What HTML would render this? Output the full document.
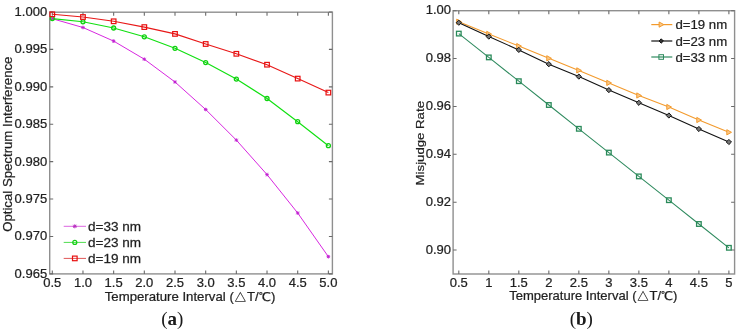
<!DOCTYPE html>
<html><head><meta charset="utf-8"><title>Figure</title>
<style>
html,body{margin:0;padding:0;background:#fff;}
body{width:740px;height:332px;overflow:hidden;}
svg{display:block;}
svg text{font-family:'Liberation Sans', 'Noto Sans CJK SC', sans-serif;fill:#1a1a1a;stroke:#333;stroke-width:0.25px;}
</style></head><body>
<svg width="740" height="332" viewBox="0 0 740 332">
<rect width="740" height="332" fill="#fff"/>
<rect x="49.70" y="12.20" width="282.70" height="261.70" fill="none" stroke="#8f8f8f" stroke-width="1.4"/>
<path d="M52.30 273.90V270.40M52.30 12.20V15.70M82.97 273.90V270.40M82.97 12.20V15.70M113.65 273.90V270.40M113.65 12.20V15.70M144.32 273.90V270.40M144.32 12.20V15.70M175.00 273.90V270.40M175.00 12.20V15.70M205.68 273.90V270.40M205.68 12.20V15.70M236.35 273.90V270.40M236.35 12.20V15.70M267.02 273.90V270.40M267.02 12.20V15.70M297.70 273.90V270.40M297.70 12.20V15.70M328.38 273.90V270.40M328.38 12.20V15.70M49.70 12.00H53.20M332.40 12.00H328.90M49.70 49.41H53.20M332.40 49.41H328.90M49.70 86.83H53.20M332.40 86.83H328.90M49.70 124.24H53.20M332.40 124.24H328.90M49.70 161.66H53.20M332.40 161.66H328.90M49.70 199.07H53.20M332.40 199.07H328.90M49.70 236.49H53.20M332.40 236.49H328.90M49.70 273.90H53.20M332.40 273.90H328.90" stroke="#6a6a6a" stroke-width="1.1" fill="none"/>
<text transform="translate(47.20 16.00) scale(1.085 1)" text-anchor="end" font-size="12">1.000</text>
<text transform="translate(47.20 53.41) scale(1.085 1)" text-anchor="end" font-size="12">0.995</text>
<text transform="translate(47.20 90.83) scale(1.085 1)" text-anchor="end" font-size="12">0.990</text>
<text transform="translate(47.20 128.24) scale(1.085 1)" text-anchor="end" font-size="12">0.985</text>
<text transform="translate(47.20 165.66) scale(1.085 1)" text-anchor="end" font-size="12">0.980</text>
<text transform="translate(47.20 203.07) scale(1.085 1)" text-anchor="end" font-size="12">0.975</text>
<text transform="translate(47.20 240.49) scale(1.085 1)" text-anchor="end" font-size="12">0.970</text>
<text transform="translate(47.20 277.90) scale(1.085 1)" text-anchor="end" font-size="12">0.965</text>
<text transform="translate(52.30 286.80) scale(1.085 1)" text-anchor="middle" font-size="12">0.5</text>
<text transform="translate(82.97 286.80) scale(1.085 1)" text-anchor="middle" font-size="12">1.0</text>
<text transform="translate(113.65 286.80) scale(1.085 1)" text-anchor="middle" font-size="12">1.5</text>
<text transform="translate(144.32 286.80) scale(1.085 1)" text-anchor="middle" font-size="12">2.0</text>
<text transform="translate(175.00 286.80) scale(1.085 1)" text-anchor="middle" font-size="12">2.5</text>
<text transform="translate(205.68 286.80) scale(1.085 1)" text-anchor="middle" font-size="12">3.0</text>
<text transform="translate(236.35 286.80) scale(1.085 1)" text-anchor="middle" font-size="12">3.5</text>
<text transform="translate(267.02 286.80) scale(1.085 1)" text-anchor="middle" font-size="12">4.0</text>
<text transform="translate(297.70 286.80) scale(1.085 1)" text-anchor="middle" font-size="12">4.5</text>
<text transform="translate(328.38 286.80) scale(1.085 1)" text-anchor="middle" font-size="12">5.0</text>
<polyline points="52.30,18.70 82.97,27.50 113.65,41.10 144.32,59.20 175.00,82.00 205.68,109.50 236.35,140.10 267.02,174.60 297.70,213.00 328.38,256.70" fill="none" stroke="#d828e0" stroke-width="1.0" stroke-linejoin="round"/>
<polyline points="52.30,18.60 82.97,21.80 113.65,28.00 144.32,36.80 175.00,48.30 205.68,62.60 236.35,79.10 267.02,98.50 297.70,121.70 328.38,145.70" fill="none" stroke="#10e010" stroke-width="1.15" stroke-linejoin="round"/>
<polyline points="52.30,14.30 82.97,17.00 113.65,21.30 144.32,27.10 175.00,33.90 205.68,44.00 236.35,53.80 267.02,64.70 297.70,78.60 328.38,92.60" fill="none" stroke="#e81818" stroke-width="1.15" stroke-linejoin="round"/>
<path d="M50.95 17.35L53.65 20.05M50.95 20.05L53.65 17.35M50.50 18.70H54.10M52.30 16.90V20.50" stroke="#c020d0" stroke-width="0.9"/>
<path d="M81.62 26.15L84.32 28.85M81.62 28.85L84.32 26.15M81.17 27.50H84.77M82.97 25.70V29.30" stroke="#c020d0" stroke-width="0.9"/>
<path d="M112.30 39.75L115.00 42.45M112.30 42.45L115.00 39.75M111.85 41.10H115.45M113.65 39.30V42.90" stroke="#c020d0" stroke-width="0.9"/>
<path d="M142.97 57.85L145.67 60.55M142.97 60.55L145.67 57.85M142.52 59.20H146.12M144.32 57.40V61.00" stroke="#c020d0" stroke-width="0.9"/>
<path d="M173.65 80.65L176.35 83.35M173.65 83.35L176.35 80.65M173.20 82.00H176.80M175.00 80.20V83.80" stroke="#c020d0" stroke-width="0.9"/>
<path d="M204.33 108.15L207.03 110.85M204.33 110.85L207.03 108.15M203.88 109.50H207.48M205.68 107.70V111.30" stroke="#c020d0" stroke-width="0.9"/>
<path d="M235.00 138.75L237.70 141.45M235.00 141.45L237.70 138.75M234.55 140.10H238.15M236.35 138.30V141.90" stroke="#c020d0" stroke-width="0.9"/>
<path d="M265.67 173.25L268.38 175.95M265.67 175.95L268.38 173.25M265.22 174.60H268.82M267.02 172.80V176.40" stroke="#c020d0" stroke-width="0.9"/>
<path d="M296.35 211.65L299.05 214.35M296.35 214.35L299.05 211.65M295.90 213.00H299.50M297.70 211.20V214.80" stroke="#c020d0" stroke-width="0.9"/>
<path d="M327.02 255.35L329.73 258.05M327.02 258.05L329.73 255.35M326.57 256.70H330.18M328.38 254.90V258.50" stroke="#c020d0" stroke-width="0.9"/>
<circle cx="52.30" cy="18.60" r="2.00" fill="none" stroke="#10d010" stroke-width="1.3"/>
<circle cx="82.97" cy="21.80" r="2.00" fill="none" stroke="#10d010" stroke-width="1.3"/>
<circle cx="113.65" cy="28.00" r="2.00" fill="none" stroke="#10d010" stroke-width="1.3"/>
<circle cx="144.32" cy="36.80" r="2.00" fill="none" stroke="#10d010" stroke-width="1.3"/>
<circle cx="175.00" cy="48.30" r="2.00" fill="none" stroke="#10d010" stroke-width="1.3"/>
<circle cx="205.68" cy="62.60" r="2.00" fill="none" stroke="#10d010" stroke-width="1.3"/>
<circle cx="236.35" cy="79.10" r="2.00" fill="none" stroke="#10d010" stroke-width="1.3"/>
<circle cx="267.02" cy="98.50" r="2.00" fill="none" stroke="#10d010" stroke-width="1.3"/>
<circle cx="297.70" cy="121.70" r="2.00" fill="none" stroke="#10d010" stroke-width="1.3"/>
<circle cx="328.38" cy="145.70" r="2.00" fill="none" stroke="#10d010" stroke-width="1.3"/>
<rect x="50.00" y="12.00" width="4.60" height="4.60" fill="none" stroke="#e81010" stroke-width="1.2"/>
<rect x="80.67" y="14.70" width="4.60" height="4.60" fill="none" stroke="#e81010" stroke-width="1.2"/>
<rect x="111.35" y="19.00" width="4.60" height="4.60" fill="none" stroke="#e81010" stroke-width="1.2"/>
<rect x="142.02" y="24.80" width="4.60" height="4.60" fill="none" stroke="#e81010" stroke-width="1.2"/>
<rect x="172.70" y="31.60" width="4.60" height="4.60" fill="none" stroke="#e81010" stroke-width="1.2"/>
<rect x="203.38" y="41.70" width="4.60" height="4.60" fill="none" stroke="#e81010" stroke-width="1.2"/>
<rect x="234.05" y="51.50" width="4.60" height="4.60" fill="none" stroke="#e81010" stroke-width="1.2"/>
<rect x="264.72" y="62.40" width="4.60" height="4.60" fill="none" stroke="#e81010" stroke-width="1.2"/>
<rect x="295.40" y="76.30" width="4.60" height="4.60" fill="none" stroke="#e81010" stroke-width="1.2"/>
<rect x="326.07" y="90.30" width="4.60" height="4.60" fill="none" stroke="#e81010" stroke-width="1.2"/>
<path d="M63.7 226.30H86" stroke="#dd66e0" stroke-width="1"/>
<path d="M73.30 224.80L76.30 227.80M73.30 227.80L76.30 224.80M72.80 226.30H76.80M74.80 224.30V228.30" stroke="#b830c0" stroke-width="1.0"/>
<text transform="translate(88.00 230.60) scale(1.130 1)" text-anchor="start" font-size="12">d=33 nm</text>
<path d="M63.7 242.40H86" stroke="#50dd50" stroke-width="1"/>
<circle cx="74.80" cy="242.40" r="2.00" fill="none" stroke="#10d010" stroke-width="1.2"/>
<text transform="translate(88.00 246.70) scale(1.130 1)" text-anchor="start" font-size="12">d=23 nm</text>
<path d="M63.7 258.40H86" stroke="#e05858" stroke-width="1"/>
<rect x="72.50" y="256.10" width="4.60" height="4.60" fill="none" stroke="#e81010" stroke-width="1.2"/>
<text transform="translate(88.00 262.70) scale(1.130 1)" text-anchor="start" font-size="12">d=19 nm</text>
<text transform="translate(190.00 300.80) scale(1.100 1)" text-anchor="middle" font-size="12">Temperature Interval (<tspan font-family="'WenQuanYi Zen Hei'">△</tspan>T/<tspan font-family="'WenQuanYi Zen Hei'">℃</tspan>)</text>
<text x="0.00" y="0.00" text-anchor="middle" font-size="12" transform="translate(12.0 144.2) rotate(-90) scale(1.10 1.0)">Optical Spectrum Interference</text>
<text x="172.3" y="325.0" text-anchor="middle" font-size="19" style="font-family:'Liberation Serif', serif;stroke:none">(<tspan font-weight="bold">a</tspan>)</text>
<rect x="453.10" y="10.70" width="281.50" height="263.30" fill="none" stroke="#8f8f8f" stroke-width="1.4"/>
<path d="M458.80 274.00V270.50M458.80 10.70V14.20M488.81 274.00V270.50M488.81 10.70V14.20M518.82 274.00V270.50M518.82 10.70V14.20M548.83 274.00V270.50M548.83 10.70V14.20M578.84 274.00V270.50M578.84 10.70V14.20M608.85 274.00V270.50M608.85 10.70V14.20M638.86 274.00V270.50M638.86 10.70V14.20M668.87 274.00V270.50M668.87 10.70V14.20M698.88 274.00V270.50M698.88 10.70V14.20M728.89 274.00V270.50M728.89 10.70V14.20M453.10 10.70H456.60M734.60 10.70H731.10M453.10 58.57H456.60M734.60 58.57H731.10M453.10 106.45H456.60M734.60 106.45H731.10M453.10 154.32H456.60M734.60 154.32H731.10M453.10 202.19H456.60M734.60 202.19H731.10M453.10 250.06H456.60M734.60 250.06H731.10" stroke="#6a6a6a" stroke-width="1.1" fill="none"/>
<text transform="translate(451.00 14.30) scale(1.085 1)" text-anchor="end" font-size="12">1.00</text>
<text transform="translate(451.00 62.17) scale(1.085 1)" text-anchor="end" font-size="12">0.98</text>
<text transform="translate(451.00 110.05) scale(1.085 1)" text-anchor="end" font-size="12">0.96</text>
<text transform="translate(451.00 157.92) scale(1.085 1)" text-anchor="end" font-size="12">0.94</text>
<text transform="translate(451.00 205.79) scale(1.085 1)" text-anchor="end" font-size="12">0.92</text>
<text transform="translate(451.00 253.66) scale(1.085 1)" text-anchor="end" font-size="12">0.90</text>
<text transform="translate(458.80 286.80) scale(1.085 1)" text-anchor="middle" font-size="12">0.5</text>
<text transform="translate(488.81 286.80) scale(1.085 1)" text-anchor="middle" font-size="12">1</text>
<text transform="translate(518.82 286.80) scale(1.085 1)" text-anchor="middle" font-size="12">1.5</text>
<text transform="translate(548.83 286.80) scale(1.085 1)" text-anchor="middle" font-size="12">2</text>
<text transform="translate(578.84 286.80) scale(1.085 1)" text-anchor="middle" font-size="12">2.5</text>
<text transform="translate(608.85 286.80) scale(1.085 1)" text-anchor="middle" font-size="12">3</text>
<text transform="translate(638.86 286.80) scale(1.085 1)" text-anchor="middle" font-size="12">3.5</text>
<text transform="translate(668.87 286.80) scale(1.085 1)" text-anchor="middle" font-size="12">4</text>
<text transform="translate(698.88 286.80) scale(1.085 1)" text-anchor="middle" font-size="12">4.5</text>
<text transform="translate(728.89 286.80) scale(1.085 1)" text-anchor="middle" font-size="12">5</text>
<polyline points="458.80,21.70 488.81,33.90 518.82,46.10 548.83,58.30 578.84,70.40 608.85,82.90 638.86,95.50 668.87,107.00 698.88,120.00 728.89,132.30" fill="none" stroke="#f39a2c" stroke-width="1.05" stroke-linejoin="round"/>
<polygon points="456.72,19.10 461.40,21.70 456.72,24.30" fill="#f9c88a" stroke="#f39a2c" stroke-width="1.0"/>
<polygon points="486.73,31.30 491.41,33.90 486.73,36.50" fill="#f9c88a" stroke="#f39a2c" stroke-width="1.0"/>
<polygon points="516.74,43.50 521.42,46.10 516.74,48.70" fill="#f9c88a" stroke="#f39a2c" stroke-width="1.0"/>
<polygon points="546.75,55.70 551.43,58.30 546.75,60.90" fill="#f9c88a" stroke="#f39a2c" stroke-width="1.0"/>
<polygon points="576.76,67.80 581.44,70.40 576.76,73.00" fill="#f9c88a" stroke="#f39a2c" stroke-width="1.0"/>
<polygon points="606.77,80.30 611.45,82.90 606.77,85.50" fill="#f9c88a" stroke="#f39a2c" stroke-width="1.0"/>
<polygon points="636.78,92.90 641.46,95.50 636.78,98.10" fill="#f9c88a" stroke="#f39a2c" stroke-width="1.0"/>
<polygon points="666.79,104.40 671.47,107.00 666.79,109.60" fill="#f9c88a" stroke="#f39a2c" stroke-width="1.0"/>
<polygon points="696.80,117.40 701.48,120.00 696.80,122.60" fill="#f9c88a" stroke="#f39a2c" stroke-width="1.0"/>
<polygon points="726.81,129.70 731.49,132.30 726.81,134.90" fill="#f9c88a" stroke="#f39a2c" stroke-width="1.0"/>
<polyline points="458.80,22.70 488.81,36.60 518.82,49.90 548.83,64.20 578.84,76.60 608.85,90.10 638.86,102.80 668.87,115.50 698.88,129.00 728.89,142.00" fill="none" stroke="#111111" stroke-width="1.1" stroke-linejoin="round"/>
<polygon points="458.80,20.10 461.40,22.70 458.80,25.30 456.20,22.70" fill="#777" stroke="#111111" stroke-width="1.0"/>
<polygon points="488.81,34.00 491.41,36.60 488.81,39.20 486.21,36.60" fill="#777" stroke="#111111" stroke-width="1.0"/>
<polygon points="518.82,47.30 521.42,49.90 518.82,52.50 516.22,49.90" fill="#777" stroke="#111111" stroke-width="1.0"/>
<polygon points="548.83,61.60 551.43,64.20 548.83,66.80 546.23,64.20" fill="#777" stroke="#111111" stroke-width="1.0"/>
<polygon points="578.84,74.00 581.44,76.60 578.84,79.20 576.24,76.60" fill="#777" stroke="#111111" stroke-width="1.0"/>
<polygon points="608.85,87.50 611.45,90.10 608.85,92.70 606.25,90.10" fill="#777" stroke="#111111" stroke-width="1.0"/>
<polygon points="638.86,100.20 641.46,102.80 638.86,105.40 636.26,102.80" fill="#777" stroke="#111111" stroke-width="1.0"/>
<polygon points="668.87,112.90 671.47,115.50 668.87,118.10 666.27,115.50" fill="#777" stroke="#111111" stroke-width="1.0"/>
<polygon points="698.88,126.40 701.48,129.00 698.88,131.60 696.28,129.00" fill="#777" stroke="#111111" stroke-width="1.0"/>
<polygon points="728.89,139.40 731.49,142.00 728.89,144.60 726.29,142.00" fill="#777" stroke="#111111" stroke-width="1.0"/>
<polyline points="458.80,33.60 488.81,57.40 518.82,81.20 548.83,105.00 578.84,128.80 608.85,152.60 638.86,176.40 668.87,200.20 698.88,224.00 728.89,247.80" fill="none" stroke="#2e8a5e" stroke-width="1.05" stroke-linejoin="round"/>
<rect x="456.50" y="31.30" width="4.60" height="4.60" fill="none" stroke="#2a8a5a" stroke-width="1.3"/>
<rect x="486.51" y="55.10" width="4.60" height="4.60" fill="none" stroke="#2a8a5a" stroke-width="1.3"/>
<rect x="516.52" y="78.90" width="4.60" height="4.60" fill="none" stroke="#2a8a5a" stroke-width="1.3"/>
<rect x="546.53" y="102.70" width="4.60" height="4.60" fill="none" stroke="#2a8a5a" stroke-width="1.3"/>
<rect x="576.54" y="126.50" width="4.60" height="4.60" fill="none" stroke="#2a8a5a" stroke-width="1.3"/>
<rect x="606.55" y="150.30" width="4.60" height="4.60" fill="none" stroke="#2a8a5a" stroke-width="1.3"/>
<rect x="636.56" y="174.10" width="4.60" height="4.60" fill="none" stroke="#2a8a5a" stroke-width="1.3"/>
<rect x="666.57" y="197.90" width="4.60" height="4.60" fill="none" stroke="#2a8a5a" stroke-width="1.3"/>
<rect x="696.58" y="221.70" width="4.60" height="4.60" fill="none" stroke="#2a8a5a" stroke-width="1.3"/>
<rect x="726.59" y="245.50" width="4.60" height="4.60" fill="none" stroke="#2a8a5a" stroke-width="1.3"/>
<path d="M651.3 24.60H672.3" stroke="#f39a2c" stroke-width="1.2"/>
<polygon points="659.12,22.00 663.80,24.60 659.12,27.20" fill="#f9c88a" stroke="#f39a2c" stroke-width="1.0"/>
<text transform="translate(675.40 29.20) scale(1.100 1)" text-anchor="start" font-size="12">d=19 nm</text>
<path d="M651.3 41.00H672.3" stroke="#111111" stroke-width="1.2"/>
<polygon points="661.20,38.80 663.40,41.00 661.20,43.20 659.00,41.00" fill="#333" stroke="#111111" stroke-width="1.0"/>
<text transform="translate(675.40 45.60) scale(1.100 1)" text-anchor="start" font-size="12">d=23 nm</text>
<path d="M651.3 57.00H672.3" stroke="#2e8a5e" stroke-width="1.2"/>
<rect x="658.90" y="54.70" width="4.60" height="4.60" fill="none" stroke="#2e8a5e" stroke-width="1.0"/>
<text transform="translate(675.40 61.60) scale(1.100 1)" text-anchor="start" font-size="12">d=33 nm</text>
<text transform="translate(593.30 300.40) scale(1.085 1)" text-anchor="middle" font-size="12">Temperature Interval (<tspan font-family="'WenQuanYi Zen Hei'">△</tspan>T/<tspan font-family="'WenQuanYi Zen Hei'">℃</tspan>)</text>
<text x="0.00" y="0.00" text-anchor="middle" font-size="12" transform="translate(424.2 143.2) rotate(-90) scale(1.10 0.95)">Misjudge Rate</text>
<text x="581.3" y="325.0" text-anchor="middle" font-size="19" style="font-family:'Liberation Serif', serif;stroke:none">(<tspan font-weight="bold">b</tspan>)</text>
</svg>
</body></html>
